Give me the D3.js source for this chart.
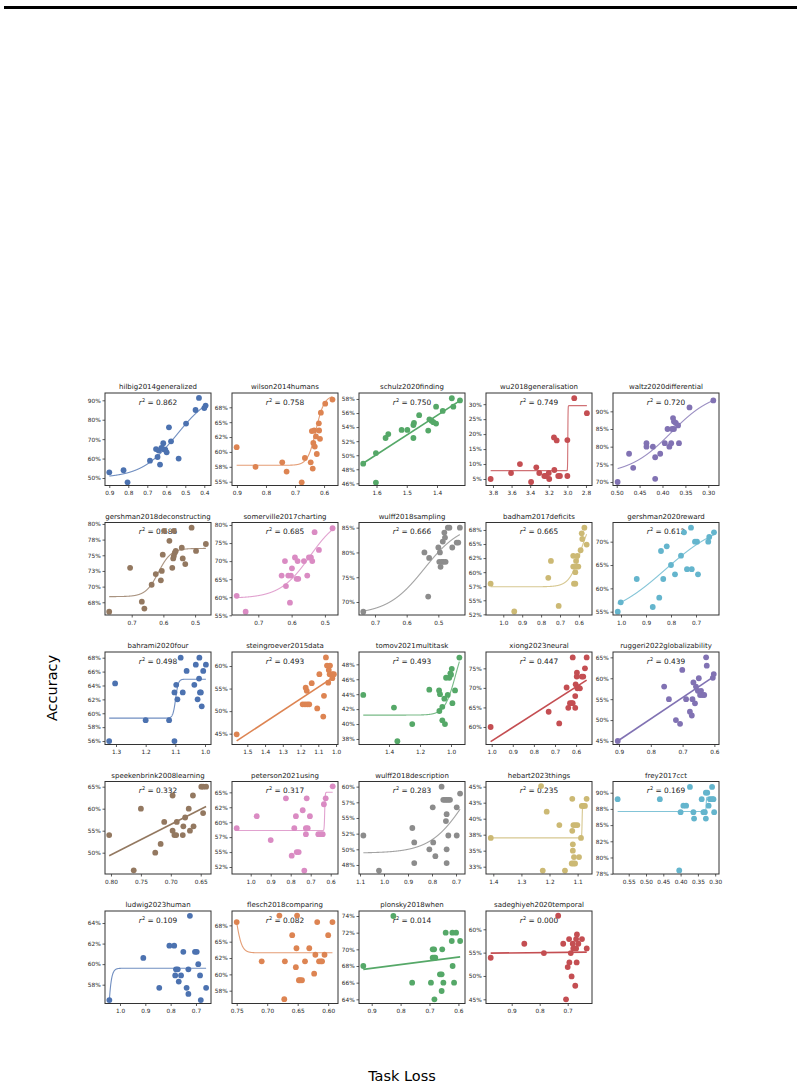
<!DOCTYPE html>
<html>
<head>
<meta charset="utf-8">
<script src="https://cdn.jsdelivr.net/npm/d3@7"></script>
<style>
body{margin:0;background:#fff}
text{font-family:"DejaVu Sans",sans-serif}
</style>
</head>
<body>
<div id="chart"></div>
<script>
// panel names and r^2 values
var titles=["hilbig2014generalized","wilson2014humans","schulz2020finding","wu2018generalisation","waltz2020differential",
  "gershman2018deconstructing","somerville2017charting","wulff2018sampling","badham2017deficits","gershman2020reward",
  "bahrami2020four","steingroever2015data","tomov2021multitask","xiong2023neural","ruggeri2022globalizability",
  "speekenbrink2008learning","peterson2021using","wulff2018description","hebart2023things","frey2017cct",
  "ludwig2023human","flesch2018comparing","plonsky2018when","sadeghiyeh2020temporal"]
var r2=["0.862","0.758","0.750","0.749","0.720","0.686","0.685","0.666","0.665","0.612","0.498","0.493","0.493",
  "0.447","0.439","0.332","0.317","0.283","0.235","0.169","0.109","0.082","0.014","0.000"]

// task loss (x) per panel
var loss=[
 [0.900,0.825,0.804,0.686,0.646,0.633,0.654,0.640,0.626,0.616,0.616,0.605,0.598,0.586,0.575,0.535,0.496,0.446,0.428,0.400,0.393],
 [0.901,0.836,0.744,0.729,0.677,0.666,0.646,0.639,0.642,0.634,0.637,0.632,0.628,0.625,0.618,0.617,0.614,0.611,0.596,0.571],
 [1.644,1.602,1.602,1.570,1.561,1.517,1.498,1.478,1.478,1.476,1.459,1.429,1.425,1.418,1.412,1.403,1.403,1.381,1.351,1.346,1.324],
 [3.825,3.606,3.51,3.39,3.334,3.302,3.248,3.23,3.20,3.195,3.144,3.14,3.115,3.098,3.08,3.0,3.0,2.926,2.79],
 [0.498,0.473,0.464,0.435,0.435,0.421,0.416,0.416,0.405,0.395,0.389,0.385,0.381,0.379,0.377,0.375,0.375,0.371,0.366,0.364,0.341,0.289],
 [0.771,0.705,0.668,0.66,0.637,0.624,0.608,0.605,0.602,0.581,0.572,0.569,0.567,0.564,0.561,0.598,0.567,0.542,0.539,0.531,0.511,0.497,0.466],
 [0.765,0.738,0.63,0.62,0.617,0.61,0.605,0.602,0.599,0.59,0.585,0.582,0.58,0.563,0.553,0.548,0.542,0.538,0.531,0.518,0.477],
 [0.737,0.544,0.529,0.532,0.5,0.497,0.495,0.489,0.486,0.484,0.493,0.481,0.479,0.477,0.470,0.465,0.456,0.442,0.437,0.432],
 [1.067,0.942,0.762,0.748,0.707,0.626,0.619,0.63,0.63,0.619,0.615,0.612,0.608,0.603,0.591,0.585,0.582,0.571,0.559],
 [1.013,1.001,0.937,0.873,0.847,0.84,0.831,0.817,0.8,0.784,0.76,0.748,0.736,0.717,0.72,0.704,0.696,0.692,0.651,0.647,0.628],
 [1.323,1.303,1.2,1.121,1.103,1.103,1.097,1.093,1.082,1.075,1.062,1.036,1.031,1.025,1.02,1.019,1.017,1.014,1.011,1.006,0.997],
 [1.56,1.171,1.165,1.188,1.175,1.162,1.151,1.137,1.106,1.094,1.072,1.068,1.057,1.051,1.041,1.036,1.044,1.034,1.021,1.021,1.012],
 [1.566,1.368,1.346,1.25,1.14,1.077,1.075,1.071,1.056,1.056,1.043,1.039,1.032,1.021,1.011,1.004,1.0,0.995,0.991,0.974,0.946],
 [1.005,0.73,0.68,0.645,0.637,0.629,0.621,0.616,0.616,0.604,0.604,0.602,0.597,0.596,0.594,0.59,0.582,0.573,0.566,0.558,0.55],
 [0.904,0.758,0.743,0.721,0.708,0.701,0.689,0.677,0.671,0.669,0.666,0.661,0.658,0.652,0.649,0.645,0.642,0.638,0.632,0.626,0.624,0.605,0.602],
 [0.803,0.762,0.75,0.726,0.717,0.711,0.697,0.697,0.694,0.691,0.69,0.68,0.679,0.676,0.67,0.668,0.663,0.662,0.649,0.646,0.641,0.646],
 [1.07,0.97,0.9,0.824,0.795,0.782,0.774,0.77,0.76,0.74,0.732,0.724,0.724,0.72,0.715,0.704,0.662,0.65,0.64,0.634,0.625,0.59],
 [1.086,1.021,0.882,0.874,0.874,0.811,0.797,0.795,0.786,0.76,0.753,0.746,0.739,0.732,0.725,0.742,0.739,0.739,0.739,0.732,0.697,0.697,0.683],
 [1.409,1.23,1.224,1.21,1.165,1.145,1.119,1.119,1.117,1.117,1.115,1.113,1.121,1.115,1.109,1.108,1.101,1.095,1.088,1.085,1.08,1.074,1.068],
 [0.582,0.46,0.404,0.4,0.392,0.384,0.373,0.363,0.361,0.339,0.334,0.33,0.327,0.327,0.323,0.319,0.315,0.309,0.309,0.305,0.303],
 [1.042,0.908,0.845,0.805,0.786,0.782,0.779,0.772,0.768,0.759,0.75,0.737,0.73,0.73,0.724,0.704,0.697,0.691,0.684,0.681,0.66],
 [0.75,0.709,0.68,0.671,0.659,0.653,0.651,0.652,0.648,0.646,0.643,0.638,0.631,0.623,0.621,0.618,0.615,0.612,0.61,0.606,0.6,0.593,0.672],
 [0.929,0.825,0.76,0.695,0.689,0.684,0.689,0.684,0.68,0.683,0.664,0.658,0.658,0.656,0.652,0.644,0.623,0.621,0.62,0.615,0.608,0.594],
 [0.975,0.855,0.785,0.734,0.716,0.7,0.695,0.694,0.689,0.686,0.682,0.68,0.673,0.67,0.67,0.668,0.667,0.706,0.662,0.649,0.632]
]

// accuracy (%) per panel
var accuracy=[
 [52.9,54.0,47.8,58.9,60.8,56.9,64.9,64.1,65.5,67.9,64.9,64.6,63.2,76.1,68.9,60.0,78.0,85.0,91.2,86.0,87.3],
 [60.8,57.5,58.25,56.7,54.9,59.0,58.25,57.2,63.5,63.6,61.5,60.9,62.6,59.65,64.8,63.6,62.2,66.6,68.1,68.8],
 [48.8,50.3,46.1,52.45,53.0,53.6,53.6,54.3,52.45,54.6,55.7,53.5,55.1,54.9,54.7,54.5,56.9,56.3,58.1,56.9,57.8],
 [5,7,10,4,8.9,7,6,6,7,5,18.9,8,17.9,6,6,18,6,32,27],
 [70,78,74,81,80,80,77,70.9,78,81,85,80,81,85,88.1,85,87.1,86.7,86,81,91.1,93.1],
 [66.0,73.0,67.6,66.5,70.3,72.0,71.0,72.5,75.1,77.3,73.0,74.5,74.9,75.4,75.7,78.9,78.9,76.2,74.5,73.6,79.4,75.7,76.8],
 [60.4,56.0,66.0,70.0,63.1,66.0,58.5,66.0,68.0,71.0,65.1,70.0,65.1,70.0,66.0,71.0,71.0,70.0,78.0,73.1,79.1],
 [68.05,80.0,78.9,71.1,81.0,78.1,80.0,78.1,82.2,78.1,77.1,84.0,83.0,78.1,85.0,85.0,81.0,82.0,82.0,85.0],
 [57.95,53.0,59.0,62.0,54.0,57.95,57.95,61.0,62.9,60.0,62.0,61.0,62.9,61.0,63.9,66.9,65.9,67.9,64.9],
 [55,57,62,56,58,68,62,69,65,63,67,72,64.1,64.1,73,70,70,63,70,71,72],
 [56,64.3,59,59,56,63,64.1,62,68,63,66.1,64.1,67,62,65,68,63,63,61,66.1,67],
 [44.85,55.2,54.5,51.5,51.5,51.5,51.5,56.2,50.6,58.2,48.8,53.4,61.9,60.1,59.1,58.2,56.3,60.1,58.2,57.3,58.2],
 [43.9,42.2,37.7,40.0,44.6,44.5,41.75,44.0,42.3,40.5,43.4,40.0,46.2,43.9,46.2,46.8,46.6,47.4,42.8,44.5,48.9],
 [60,63.9,60.9,70.1,64.9,66.1,66.1,77.8,66.1,64.9,67.9,70.9,72.9,73.9,69.9,70.1,69.9,72.9,72.9,75,77.8],
 [45,58,55,50,49.1,62,55,52,51.1,55,59,54,58,57,60,56,57,56,56,65,63,60.1,61],
 [54,46,60,50,52,57,63,55,54,54,57,54,56,58,60,55,63,56,65,65,65,59],
 [59,61,57,64,54.4,59,61,55,55,62,51.9,58,59,64,59,61,58,58,58,63,64,66],
 [52.2,46.6,53.4,51.1,47.8,50.0,56.7,51.1,48.9,60.0,57.9,57.9,57.9,57.9,57.9,54.5,55.6,50.0,47.8,52.2,56.7,52.2,58.9],
 [37,45.1,31.9,41.1,39,31.9,43.1,38.1,36,35,39,34,33,33,33,39,39,34,37,42,42,42,43.1],
 [89,89,78,87,88,88,90.9,87,86,89,87,87,90,86,90,88,89,90.9,89,89,87],
 [56.5,60.6,57.7,61.8,61.8,58.9,59.5,59.5,58.3,58.9,61.2,57.7,59.5,57.1,64.7,61.2,61.2,60.0,58.9,56.5,57.7],
 [68,62,69,62,66,61.1,69,64,59.1,59.1,59.1,62,64,60.1,63,68,62,62,62,63,66,68,56.2],
 [68,74,66,66,70,70,69,69,69,64,67,67,65,70,66,72,71,72,68,66,72,71],
 [53.9,56.9,54.9,62.9,56.9,51.9,57.9,52.9,54.9,49.9,56.9,55.9,47.9,57.9,55.9,52.9,58.9,45,56.9,57.9,55.9]
]

// axis limits (x runs from high loss to low loss)
var xLimits=[[0.9226,0.3647],[0.917,0.552],[1.6579,1.3074],[3.875,2.735],[0.5081,0.2766],
  [0.7842,0.4498],[0.779,0.4607],[0.7505,0.4158],[1.0915,0.5307],[1.032,0.608],
  [1.3371,0.9798],[1.5862,0.989],[1.5935,0.9097],[1.027,0.5246],[0.9189,0.5855],
  [0.81,0.6328],[1.0935,0.5635],[1.1042,0.6625],[1.426,1.0488],[0.5954,0.289],
  [1.0592,0.6407],[0.7577,0.5839],[0.9439,0.5772],[0.9918,0.6132]]
var yLimits=[[46.14,93.76],[54.36,69.9],[45.69,58.85],[2.83,33.73],[69.01,95.19],
  [65.47,80.23],[55.08,80.69],[67.38,86.04],[52.38,68.83],[54.29,74.11],
  [55.5,68.82],[42.6,63.11],[37.26,49.65],[55.52,79.18],[44.16,66.28],
  [45.16,66.18],[51.33,66.81],[46.06,60.82],[31.36,45.81],[77.45,91.73],
  [56.17,65.17],[55.54,69.7],[63.5,74.6],[44.1,63.92]]

// tick values and labels
var xTicks=[[0.9,0.8,0.7,0.6,0.5,0.4],[0.9,0.8,0.7,0.6],[1.6,1.5,1.4],[3.8,3.6,3.4,3.2,3.0,2.8],[0.5,0.45,0.4,0.35,0.3],
  [0.7,0.6,0.5],[0.7,0.6,0.5],[0.7,0.6,0.5],[1.0,0.9,0.8,0.7,0.6],[1.0,0.9,0.8,0.7],
  [1.3,1.2,1.1,1.0],[1.5,1.4,1.3,1.2,1.1,1.0],[1.4,1.2,1.0],[1.0,0.9,0.8,0.7,0.6],[0.9,0.8,0.7,0.6],
  [0.8,0.75,0.7,0.65],[1.0,0.9,0.8,0.7,0.6],[1.1,1.0,0.9,0.8,0.7],[1.4,1.3,1.2,1.1],[0.55,0.5,0.45,0.4,0.35,0.3],
  [1.0,0.9,0.8,0.7],[0.75,0.7,0.65,0.6],[0.9,0.8,0.7,0.6],[0.9,0.8,0.7]]
var xTickLabels=[["0.9","0.8","0.7","0.6","0.5","0.4"],["0.9","0.8","0.7","0.6"],["1.6","1.5","1.4"],["3.8","3.6","3.4","3.2","3.0","2.8"],["0.50","0.45","0.40","0.35","0.30"],
  ["0.7","0.6","0.5"],["0.7","0.6","0.5"],["0.7","0.6","0.5"],["1.0","0.9","0.8","0.7","0.6"],["1.0","0.9","0.8","0.7"],
  ["1.3","1.2","1.1","1.0"],["1.5","1.4","1.3","1.2","1.1","1.0"],["1.4","1.2","1.0"],["1.0","0.9","0.8","0.7","0.6"],["0.9","0.8","0.7","0.6"],
  ["0.80","0.75","0.70","0.65"],["1.0","0.9","0.8","0.7","0.6"],["1.1","1.0","0.9","0.8","0.7"],["1.4","1.3","1.2","1.1"],["0.55","0.50","0.45","0.40","0.35","0.30"],
  ["1.0","0.9","0.8","0.7"],["0.75","0.70","0.65","0.60"],["0.9","0.8","0.7","0.6"],["0.9","0.8","0.7"]]
var yTicks=[[50,60,70,80,90],[55,57.5,60,62.5,65,67.5],[46,48,50,52,54,56,58],[5,10,15,20,25,30],[70,75,80,85,90],
  [67.5,70,72.5,75,77.5,80],[55,60,65,70,75,80],[70,75,80,85],[52.5,55,57.5,60,62.5,65,67.5],[55,60,65,70],
  [56,58,60,62,64,66,68],[45,50,55,60],[38,40,42,44,46,48],[60,65,70,75],[45,50,55,60,65],
  [50,55,60,65],[52.5,55,57.5,60,62.5,65],[47.5,50,52.5,55,57.5,60],[32.5,35,37.5,40,42.5,45],[77.5,80,82.5,85,87.5,90],
  [58,60,62,64],[57.5,60,62.5,65,67.5],[64,66,68,70,72,74],[45,50,55,60]]
var yTickLabels=[["50%","60%","70%","80%","90%"],["55%","58%","60%","62%","65%","68%"],["46%","48%","50%","52%","54%","56%","58%"],["5%","10%","15%","20%","25%","30%"],["70%","75%","80%","85%","90%"],
  ["68%","70%","73%","75%","78%","80%"],["55%","60%","65%","70%","75%","80%"],["70%","75%","80%","85%"],["52%","55%","57%","60%","62%","65%","68%"],["55%","60%","65%","70%"],
  ["56%","58%","60%","62%","64%","66%","68%"],["45%","50%","55%","60%"],["38%","40%","42%","44%","46%","48%"],["60%","65%","70%","75%"],["45%","50%","55%","60%","65%"],
  ["50%","55%","60%","65%"],["52%","55%","57%","60%","62%","65%"],["48%","50%","52%","55%","57%","60%"],["33%","35%","38%","40%","43%","45%"],["78%","80%","82%","85%","88%","90%"],
  ["58%","60%","62%","64%"],["58%","60%","62%","65%","68%"],["64%","66%","68%","70%","72%","74%"],["45%","50%","55%","60%"]]

// fitted curves: "sig" = [low, high, midpoint, slope], "lin" = [x1, y1, x2, y2]
var fitKind=["sig","sig","lin","sig","sig","sig","sig","sig","sig","sig","sig","lin","sig","lin","lin",
  "lin","sig","sig","sig","sig","sig","sig","lin","lin"]
var fitParams=[[50,95,0.543,10.6],[57.75,69.5,0.628,70],[1.644,48.85,1.324,57.76],[7.8,29.5,2.995,800],[72,96,0.381,21.5],
  [68.4,76.1,0.616,50],[59.7,83,0.545,22],[67.5,86,0.544,17],[57.4,70,0.591,33],[53,75,0.8235,8.5],
  [59.3,64.9,1.099,220],[1.56,43.4,1.012,57.6],[41.2,52,0.97,28],[1.005,56.25,0.55,72.0],[0.904,45,0.602,60.4],
  [0.803,49.3,0.641,60.5],[58.6,65,0.63,800],[49.4,66,0.66,13.7],[37.0,42.3,1.084,1500],[87.1,89.3,0.326,2000],
  [40,59.6,1.054,139],[63.3,75,0.752,-206],[0.929,67.6,0.594,69.1],[0.975,54.9,0.632,55.1]]

var palette=["#4c72b0","#dd8452","#55a868","#c44e52","#8172b3","#937860","#da8bc3","#8c8c8c","#ccb974","#64b5cd"]

var width=804, height=1087
var panel={left:105, top:393, w:106, h:92.5, dx:127, dy:129.5}

var svg=d3.select("#chart").append("svg")
  .attr("width",width)
  .attr("height",height)

// rule at top of page
svg.append("rect").attr("x",4).attr("y",6).attr("width",793).attr("height",3).attr("fill","#000")

titles.forEach(function(name,i){
  var col=i%5, row=Math.floor(i/5)
  var L=panel.left+col*panel.dx, T=panel.top+row*panel.dy
  var color=palette[i%10]

  var x=d3.scaleLinear().domain(xLimits[i]).range([L,L+panel.w])
  var y=d3.scaleLinear().domain(yLimits[i]).range([T+panel.h,T])

  var g=svg.append("g")

  // axes
  var xa=g.append("g")
    .attr("transform","translate(0,"+(T+panel.h)+")")
    .call(d3.axisBottom(x).tickValues(xTicks[i]).tickFormat(function(d,j){return xTickLabels[i][j]}).tickSize(2.5).tickPadding(3.2))
  var ya=g.append("g")
    .attr("transform","translate("+L+",0)")
    .call(d3.axisLeft(y).tickValues(yTicks[i]).tickFormat(function(d,j){return yTickLabels[i][j]}).tickSize(2.5).tickPadding(1.8))
  ;[xa,ya].forEach(function(a){
    a.select(".domain").remove()
    a.attr("font-family",null).attr("font-size",null)
    a.selectAll("line").attr("stroke","#333").attr("stroke-width",0.8)
    a.selectAll("text").style("font-size","5.8px").attr("fill","#262626")
  })

  // title
  g.append("text")
    .attr("x",L+panel.w/2).attr("y",T-4)
    .attr("text-anchor","middle")
    .style("font-size","7px")
    .attr("fill","#1a1a1a")
    .text(name)

  // r^2 label
  var rt=g.append("text")
    .attr("x",L+panel.w/2).attr("y",T+11.5)
    .attr("text-anchor","middle")
    .style("font-size","7.4px")
    .attr("fill","#1a1a1a")
  rt.append("tspan").style("font-style","italic").text("r")
  rt.append("tspan").attr("dy",-2.8).style("font-size","5px").text("2")
  rt.append("tspan").attr("dy",2.8).text(" = "+r2[i])

  // points
  var pts=loss[i].map(function(v,j){return {x:v,y:accuracy[i][j]}})
  g.selectAll("circle").data(pts).enter().append("circle")
    .attr("cx",function(d){return x(d.x)})
    .attr("cy",function(d){return y(d.y)})
    .attr("r",2.9)
    .attr("fill",color)

  // fit line
  var p=fitParams[i], line=[]
  if(fitKind[i]=="lin"){
    line=[{x:p[0],y:p[1]},{x:p[2],y:p[3]}]
  } else {
    var ext=d3.extent(loss[i])
    var n=800
    for(var k=0;k<=n;k++){
      var xv=ext[1]-(ext[1]-ext[0])*k/n
      line.push({x:xv,y:p[0]+(p[1]-p[0])/(1+Math.exp(p[3]*(xv-p[2])))})
    }
  }
  var drawPath=d3.line().x(function(d){return x(d.x)}).y(function(d){return y(d.y)})
  g.append("path")
    .attr("d",drawPath(line))
    .attr("fill","none")
    .attr("stroke",color)
    .attr("stroke-width",fitKind[i]=="lin"?1.6:1.1)
    .attr("stroke-opacity",fitKind[i]=="lin"?1:0.8)

  // frame
  g.append("rect")
    .attr("x",L).attr("y",T).attr("width",panel.w).attr("height",panel.h)
    .attr("fill","none").attr("stroke","#333").attr("stroke-width",1)
})

// shared axis titles
svg.append("text")
  .attr("transform","translate(57,688) rotate(-90)")
  .attr("text-anchor","middle")
  .style("font-size","14.5px")
  .text("Accuracy")
svg.append("text")
  .attr("x",402).attr("y",1081)
  .attr("text-anchor","middle")
  .style("font-size","14.5px")
  .text("Task Loss")
</script>
</body>
</html>
